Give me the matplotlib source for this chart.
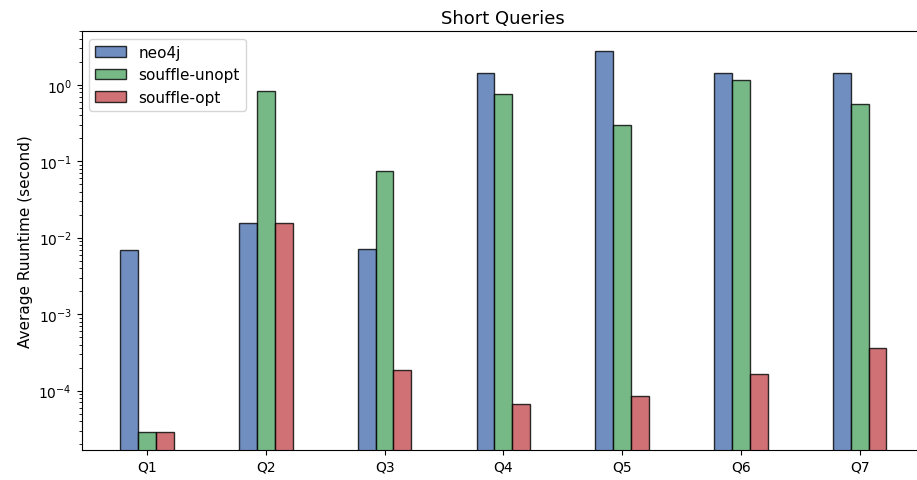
import matplotlib
matplotlib.use("Agg")
import matplotlib.pyplot as plt
import numpy as np

queries = ["Q1", "Q2", "Q3", "Q4", "Q5", "Q6", "Q7"]
neo4j = [0.0069, 0.0156, 0.0072, 1.42, 2.76, 1.41, 1.41]
souffle_unopt = [2.86e-5, 0.826, 0.0751, 0.755, 0.297, 1.14, 0.554]
souffle_opt = [2.86e-5, 0.0156, 1.88e-4, 6.76e-5, 8.5e-5, 1.65e-4, 3.61e-4]

series = [("neo4j", neo4j, "#4C72B0"),
          ("souffle-unopt", souffle_unopt, "#55A868"),
          ("souffle-opt", souffle_opt, "#C44E52")]

fig = plt.figure(figsize=(9.17, 4.81), dpi=100)
ax = fig.add_axes([0.0891, 0.063, 0.9196, 0.8705])

x = np.arange(len(queries))
width = 0.15
for i, (name, vals, color) in enumerate(series):
    ax.bar(x + (i - 1) * width, vals, width, label=name, color=color,
           edgecolor="black", alpha=0.8)

ax.set_yscale("log")
ax.set_ylim(1.69e-5, 5.04)
ax.set_xlim(-0.55, 6.55)
ax.set_xticks(x)
ax.set_xticklabels(queries)
ax.set_ylabel("Average Ruuntime (second)", fontsize=11)
ax.set_title("Short Queries", fontsize=13)
ax.legend(loc="upper left", fontsize=11)

fig.savefig("out.png", dpi=100)
